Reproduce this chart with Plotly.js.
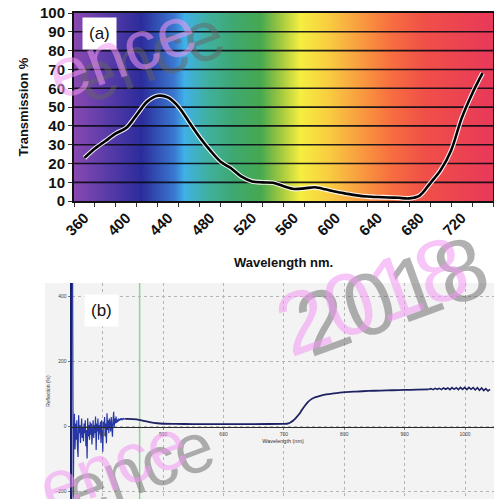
<!DOCTYPE html>
<html>
<head>
<meta charset="utf-8">
<script src="https://cdn.plot.ly/plotly-3.0.1.min.js"></script>
<style>html,body{margin:0;padding:0;background:#fff;}#chart{width:494px;height:499px;}</style>
</head>
<body>
<div id="chart"></div>
<script>
// ---------- Panel (a): transmission ----------
const aWl = [360,370,380,390,400,410,420,430,440,450,460,470,480,490,500,510,520,530,540,550,560,570,580,590,600,610,620,630,640,650,660,670,680,690,700,710,720,730,740];
const aTrans = [23,28,32,36,39,46,53,56,55,50,42,34,27,21,17.5,13,10.5,10,9.8,8,6.5,6.8,7.4,6.3,5,4,3.1,2.5,2.2,2,1.8,1.5,3,9.5,16.5,27,44,57,68];
const aTickVals = [360,400,440,480,520,560,600,640,680,720];
const aYTicks = [0,10,20,30,40,50,60,70,80,90,100];
const aRange = [350,750];
// spectrum background colour stops (nm -> colour)
const bgWl = [330,350,381,414,445,455,477,502,528,547,566,591,620,651,683,750,770];
const bgColors = ['#8848b0','#8848b0','#5a3ca8','#2c2c9c','#3a78d0','#40b0e8','#40b0a0','#3fa870','#45a850','#a0c840','#f5ee40','#f8d040','#f8a040','#f87040','#f05048','#e8385a','#e8385a'];

// ---------- Panel (b): reflection ----------
const bNoiseStart = 350;  // nm, 1 nm steps
const bNoise = [460,-240,-30,40,-70,10,-40,20,-60,-93,35,-20,5,-50,-10,25,-35,0,-45,10,-20,20,-60,-10,-98,26,-30,5,-40,15,-25,10,-55,0,20,-35,5,-20,31,-72,10,-15,25,-40,5,-20,15,-50,20,-10,-77,15,-5,30,-30,10,-51,41,-10,20,-20,25,0,-15,30,5,-31,20,46,0,25,10,31,12,22,15,25,18,24,20,26,21,24,22,25,23,24,24];
const bWl = [437,440,450,460,470,480,490,500,520,550,600,650,700,705,710,715,720,725,730,735,740,745,750,755,760,770,780,790,800,820,840,860,880,900,920,940];
const bRefl = [24,24,23,21,17,13,10.5,9,8.5,8,8,8,8.5,9,12,18,27,38,52,65,76,84,89,92,95,99,102,104,106,108,110,111,112,113,114,115];
const bRippleStart = 940; // nm, 3.5 nm steps
const bRipple = [115,117,114,118,115,118,114,119,115,119,114,120,115,120,114,121,115,121,114,121,115,120,113,120,112,119,111,117,110,115];
const bMarkerWl = 461;
const bRange = [349,1048];
const bYRange = [-222.5,442];

// ---------- traces ----------
const scale = bgWl.map((w,i)=>[(w-bgWl[0])/(bgWl[bgWl.length-1]-bgWl[0]), bgColors[i]]);
const bgTrace = {type:'heatmap', x:bgWl, y:[-20,120], z:[bgWl,bgWl], colorscale:scale, zsmooth:'best', showscale:false, hoverinfo:'skip', xaxis:'x', yaxis:'y'};

const gx=[], gy=[];
aYTicks.slice(1,-1).forEach(v=>{gx.push(aRange[0],aRange[1],null); gy.push(v,v,null);});
const gridTrace = {type:'scatter', mode:'lines', x:gx, y:gy, line:{color:'rgba(10,10,20,0.9)', width:1.6}, hoverinfo:'skip', xaxis:'x', yaxis:'y', showlegend:false};

const haloTrace = {type:'scatter', mode:'lines', x:aWl, y:aTrans, line:{color:'rgba(255,255,255,0.9)', width:4.8, shape:'spline', smoothing:0.9}, hoverinfo:'skip', xaxis:'x', yaxis:'y', showlegend:false};
const curveTrace = {type:'scatter', mode:'lines', x:aWl, y:aTrans, line:{color:'#000', width:2.6, shape:'spline', smoothing:0.9}, xaxis:'x', yaxis:'y', showlegend:false};

const noiseTrace = {type:'scatter', mode:'lines', x0:bNoiseStart, dx:1, y:bNoise, line:{color:'#2636a4', width:1.2}, xaxis:'x2', yaxis:'y2', showlegend:false};
const smoothTrace = {type:'scatter', mode:'lines', x:bWl, y:bRefl, line:{color:'#1e2262', width:1.8, shape:'spline', smoothing:0.6}, xaxis:'x2', yaxis:'y2', showlegend:false};
const rippleTrace = {type:'scatter', mode:'lines', x0:bRippleStart, dx:3.5, y:bRipple, line:{color:'#1e2262', width:1.6}, xaxis:'x2', yaxis:'y2', showlegend:false};

// ---------- layout ----------
const W=494, H=499;
const px = v=>v/W, py = v=>1-v/H;
const boldFont = {family:'Liberation Sans, Arial, sans-serif', size:15, color:'#111', weight:'bold'};
const pinkFont = s=>({family:'Liberation Sans, Arial, sans-serif', size:s, color:'rgba(240,150,240,0.55)'});
const grayFont = s=>({family:'Liberation Sans, Arial, sans-serif', size:s, color:'rgba(100,100,100,0.5)'});
const wm = (t,x,y,f)=>({text:t, xref:'paper', yref:'paper', x:px(x), y:py(y), xanchor:'center', yanchor:'middle', textangle:-20, showarrow:false, font:f});

const layout = {
  width:W, height:H, margin:{l:0,r:0,t:0,b:0},
  paper_bgcolor:'#fff', plot_bgcolor:'rgba(0,0,0,0)', showlegend:false,
  xaxis:{domain:[px(74),px(493)], range:aRange, anchor:'y', tickmode:'array', tickvals:aTickVals,
    ticks:'outside', ticklen:0, tickangle:-45, tickfont:boldFont, showgrid:false, zeroline:false,
    showline:true, linecolor:'#111', linewidth:2, mirror:true,
    minor:{tickmode:'linear', tick0:350, dtick:20, ticks:'outside', ticklen:4, tickcolor:'#333', showgrid:false},
    title:{text:'Wavelength nm.', font:{family:'Liberation Sans, Arial, sans-serif', size:13, color:'#111', weight:'bold'}, standoff:20}},
  yaxis:{domain:[py(201.2),py(13)], range:[0,100], anchor:'x', tickmode:'array', tickvals:aYTicks,
    ticks:'outside', ticklen:4, tickcolor:'#333', tickfont:boldFont, showgrid:false, zeroline:false,
    showline:true, linecolor:'#111', linewidth:2, mirror:true,
    title:{text:'Transmission %', font:{family:'Liberation Sans, Arial, sans-serif', size:13, color:'#111', weight:'bold'}, standoff:8}},
  xaxis2:{domain:[px(72),1], range:bRange, anchor:'free', position:py(426.7), tick0:0, dtick:100,
    showgrid:true, gridcolor:'#b4b4b4', griddash:'dot', gridwidth:1, zeroline:false,
    showline:true, linecolor:'#2a2a2a', linewidth:1.6, ticks:'outside', ticklen:2, tickcolor:'#777',
    tickfont:{family:'Liberation Sans, Arial, sans-serif', size:5, color:'#444'},
    title:{text:'Wavelength (nm)', font:{family:'Liberation Sans, Arial, sans-serif', size:5.5, color:'#333'}, standoff:3}},
  yaxis2:{domain:[0,py(283)], range:bYRange, anchor:'x2', tick0:0, dtick:200,
    showgrid:true, gridcolor:'#b4b4b4', griddash:'dot', gridwidth:1, zeroline:false,
    showline:true, linecolor:'#1b1f66', linewidth:2.5, ticks:'outside', ticklen:2, tickcolor:'#777',
    tickfont:{family:'Liberation Sans, Arial, sans-serif', size:5, color:'#444'},
    title:{text:'Reflection (%)', font:{family:'Liberation Sans, Arial, sans-serif', size:5, color:'#333'}, standoff:5}},
  shapes:[
    {type:'rect', xref:'paper', yref:'paper', x0:px(45), x1:1, y0:0, y1:py(283), fillcolor:'#f3f3f3', line:{width:0}, layer:'below'},
    {type:'line', xref:'x2', yref:'paper', x0:bMarkerWl, x1:bMarkerWl, y0:0, y1:py(283), line:{color:'#8fd38f', width:1.5}, layer:'between'}
  ],
  annotations:[
    {text:'(a)', xref:'paper', yref:'paper', x:px(99.5), y:py(34), xanchor:'center', yanchor:'middle', showarrow:false,
     font:{family:'Liberation Sans, Arial, sans-serif', size:17, color:'#111'}, bgcolor:'#fff', borderpad:6},
    {text:'(b)', xref:'paper', yref:'paper', x:px(101), y:py(310), xanchor:'center', yanchor:'middle', showarrow:false,
     font:{family:'Liberation Sans, Arial, sans-serif', size:17, color:'#111'}, bgcolor:'#fff', borderpad:6},
    // watermarks
    wm('ence',150,56,grayFont(70)),
    wm('ence',122,52,pinkFont(70)),
    wm('2018',392,295,grayFont(88)),
    wm('2018',372,295,pinkFont(88)),
    wm('ence',140,468,grayFont(70)),
    wm('ence',113,465,pinkFont(70))
  ]
};

Plotly.newPlot('chart', [bgTrace, gridTrace, haloTrace, curveTrace, noiseTrace, smoothTrace, rippleTrace], layout, {staticPlot:true, displayModeBar:false});
</script>
</body>
</html>
